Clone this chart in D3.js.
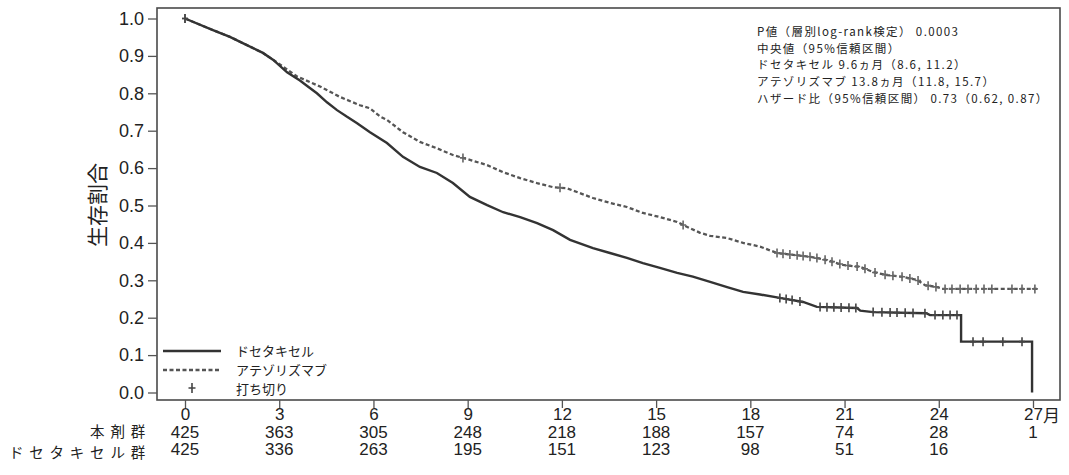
<!DOCTYPE html>
<html>
<head>
<meta charset="utf-8">
<script src="https://cdn.jsdelivr.net/npm/d3@7"></script>
<style>
  html, body { margin: 0; padding: 0; background: #fff; }
  svg { display: block; }
  text { fill: #222; }
</style>
</head>
<body>
<svg id="chart" width="1069" height="475"></svg>
<script>
// ---------------- data ----------------
const xTicks = [0, 3, 6, 9, 12, 15, 18, 21, 24, 27];
const xTickLabels = ["0", "3", "6", "9", "12", "15", "18", "21", "24", "27"];
const xUnitLabel = "月";
const yTicks = [0.0, 0.1, 0.2, 0.3, 0.4, 0.5, 0.6, 0.7, 0.8, 0.9, 1.0];
const yTickLabels = ["0.0", "0.1", "0.2", "0.3", "0.4", "0.5", "0.6", "0.7", "0.8", "0.9", "1.0"];
const yAxisTitle = "生存割合";

const riskRowLabels = ["本剤群", "ドセタキセル群"];
const atRiskAtezo = [425, 363, 305, 248, 218, 188, 157, 74, 28, 1];
const atRiskDoce = [425, 336, 263, 195, 151, 123, 98, 51, 16, null];

const legendLabels = ["ドセタキセル", "アテゾリズマブ", "打ち切り"];

const annotationLines = [
  "P値（層別log-rank検定） 0.0003",
  "中央値（95%信頼区間）",
  "ドセタキセル 9.6ヵ月（8.6, 11.2）",
  "アテゾリズマブ 13.8ヵ月（11.8, 15.7）",
  "ハザード比（95%信頼区間） 0.73（0.62, 0.87）"
];

// docetaxel (solid)
const doceTime = [0, 0.89, 1.43, 1.97, 2.48, 2.80, 3.25, 3.66, 3.88, 4.20, 4.52, 4.84, 5.16, 5.48, 5.89,
  6.43, 6.94, 7.48, 8.02, 8.53, 9.07, 9.62, 10.13, 10.67, 11.21, 11.72, 12.26, 12.99, 13.53, 14.07,
  14.58, 15.12, 15.67, 16.17, 16.72, 17.26, 17.77, 18.31, 18.94, 19.68, 20.12, 21.40, 21.50, 21.91,
  23.60, 23.72, 24.71, 24.71, 26.97, 26.97];
const doceSurv = [1.0, 0.969, 0.951, 0.929, 0.908, 0.890, 0.856, 0.834, 0.820, 0.800, 0.776, 0.755, 0.737, 0.720, 0.696,
  0.667, 0.630, 0.603, 0.587, 0.560, 0.523, 0.501, 0.482, 0.469, 0.453, 0.434, 0.408, 0.386, 0.373, 0.360,
  0.346, 0.333, 0.320, 0.310, 0.296, 0.282, 0.269, 0.262, 0.253, 0.242, 0.229, 0.226, 0.219, 0.215,
  0.212, 0.207, 0.207, 0.136, 0.136, 0.0];
const doceCensor = [0, 18.94, 19.14, 19.33, 19.58, 20.22, 20.44, 20.66, 20.89, 21.14, 21.36, 21.91, 22.19,
  22.45, 22.67, 22.93, 23.18, 23.56, 23.88, 24.13, 24.36, 24.58, 25.09, 25.41, 26.04, 26.65];

// atezolizumab (dotted)
const atezoTime = [0, 0.89, 1.43, 1.97, 2.48, 2.80, 3.57, 4.30, 4.94, 5.57, 5.89, 6.21, 6.43, 6.94, 7.48,
  8.02, 8.53, 9.07, 9.62, 10.13, 10.67, 11.21, 11.72, 12.16, 12.48, 12.99, 13.53, 14.07, 14.58, 15.12,
  15.67, 15.98, 16.40, 16.72, 17.26, 17.77, 18.31, 18.85, 19.90, 20.44, 20.95, 21.49, 21.91, 22.35,
  22.86, 23.31, 23.56, 23.94, 24.13, 27.13];
const atezoSurv = [1.0, 0.969, 0.951, 0.929, 0.908, 0.890, 0.845, 0.818, 0.790, 0.768, 0.760, 0.738, 0.729, 0.696, 0.670,
  0.653, 0.635, 0.622, 0.608, 0.589, 0.573, 0.560, 0.549, 0.546, 0.536, 0.520, 0.507, 0.496, 0.480, 0.469,
  0.456, 0.443, 0.427, 0.419, 0.413, 0.400, 0.390, 0.373, 0.363, 0.354, 0.341, 0.336, 0.322, 0.314,
  0.309, 0.301, 0.287, 0.282, 0.277, 0.277];
const atezoCensor = [0, 8.85, 11.94, 15.86, 18.85, 19.04, 19.26, 19.49, 19.68, 19.90, 20.12, 20.38, 20.60,
  20.85, 21.11, 21.40, 21.65, 21.97, 22.29, 22.54, 22.83, 23.08, 23.34, 23.66, 23.91, 24.20, 24.42,
  24.68, 24.93, 25.19, 25.44, 25.69, 26.33, 26.65, 27.06];

// ---------------- layout ----------------
const svg = d3.select("#chart");
const frame = { left: 157, right: 1060, top: 8, bottom: 400 };
const x = d3.scaleLinear().domain([0, 27]).range([185, 1033]);
const y = d3.scaleLinear().domain([0, 1]).range([392.5, 18.5]);

const latin = "'Liberation Sans', Arial, sans-serif";
const cjk = "'Noto Sans CJK JP', 'Noto Sans', sans-serif";

// frame
svg.append("rect")
  .attr("x", frame.left).attr("y", frame.top)
  .attr("width", frame.right - frame.left).attr("height", frame.bottom - frame.top)
  .attr("fill", "none").attr("stroke", "#4a4a4a").attr("stroke-width", 1.6);

// y axis
const yAxis = d3.axisLeft(y).tickValues(yTicks).tickSize(9).tickPadding(4)
  .tickFormat((d, i) => yTickLabels[i]);
const gy = svg.append("g").attr("transform", `translate(${frame.left},0)`).call(yAxis);
gy.select(".domain").remove();
gy.selectAll(".tick line").attr("stroke", "#555").attr("stroke-width", 1.3);
gy.selectAll(".tick text").attr("font-family", latin).attr("font-size", 18).attr("fill", "#333");

// x axis
const xAxis = d3.axisBottom(x).tickValues(xTicks).tickSize(8).tickPadding(0)
  .tickFormat((d, i) => xTickLabels[i]);
const gx = svg.append("g").attr("transform", `translate(0,${frame.bottom})`).call(xAxis);
gx.select(".domain").remove();
gx.selectAll(".tick line").attr("stroke", "#555").attr("stroke-width", 1.3);
gx.selectAll(".tick text").attr("font-family", latin).attr("font-size", 17).attr("fill", "#333")
  .attr("y", 14).attr("dy", null).attr("dominant-baseline", "central");
gx.selectAll(".tick").filter((d, i) => i === xTicks.length - 1).select("text")
  .attr("text-anchor", "start").attr("dx", -9.5)
  .append("tspan").attr("font-family", cjk).attr("font-size", 17).text(xUnitLabel);

// y axis title
svg.append("text")
  .attr("transform", "translate(96,205) rotate(-90)")
  .attr("text-anchor", "middle").attr("dominant-baseline", "central")
  .attr("font-family", cjk).attr("font-size", 21).attr("fill", "#333")
  .text(yAxisTitle);

// at-risk table
const riskY = [432, 449];
const riskLabelY = [430.5, 451.5];
[atRiskAtezo, atRiskDoce].forEach((row, r) => {
  svg.append("text")
    .attr("x", 151).attr("y", riskLabelY[r])
    .attr("text-anchor", "end").attr("dominant-baseline", "central")
    .attr("font-family", cjk).attr("font-size", 14.5).attr("letter-spacing", 5.8)
    .attr("fill", "#333")
    .text(riskRowLabels[r]);
  svg.append("g").selectAll("text").data(row.map((v, i) => ({ v, t: xTicks[i] })).filter(d => d.v !== null))
    .join("text")
    .attr("x", d => x(d.t)).attr("y", riskY[r])
    .attr("text-anchor", "middle").attr("dominant-baseline", "central")
    .attr("font-family", latin).attr("font-size", 17).attr("fill", "#333")
    .text(d => d.v);
});

// curves
const line = d3.line().x(d => x(d[0])).y(d => y(d[1])).curve(d3.curveLinear);
const doceData = doceTime.map((t, i) => [t, doceSurv[i]]);
const atezoData = atezoTime.map((t, i) => [t, atezoSurv[i]]);

const plot = svg.append("g");
plot.append("path").datum(atezoData).attr("d", line)
  .attr("fill", "none").attr("stroke", "#555").attr("stroke-width", 2.3)
  .attr("stroke-dasharray", "4,2.5");
plot.append("path").datum(doceData).attr("d", line)
  .attr("fill", "none").attr("stroke", "#333").attr("stroke-width", 2.4);

function valueAt(times, surv, t) {
  for (let i = times.length - 1; i >= 0; i--) {
    if (times[i] <= t) {
      if (i === times.length - 1) return surv[i];
      const t0 = times[i], t1 = times[i + 1];
      if (t1 === t0) return surv[i + 1];
      return surv[i] + (surv[i + 1] - surv[i]) * (t - t0) / (t1 - t0);
    }
  }
  return surv[0];
}
function plusPath(cx, cy, h, w) {
  return `M${cx - w},${cy}H${cx + w}M${cx},${cy - h}V${cy + h}`;
}
plot.append("g").selectAll("path").data(atezoCensor).join("path")
  .attr("d", t => plusPath(x(t), y(valueAt(atezoTime, atezoSurv, t)), 4.5, 3))
  .attr("fill", "none").attr("stroke", "#666").attr("stroke-width", 1.6);
plot.append("g").selectAll("path").data(doceCensor).join("path")
  .attr("d", t => plusPath(x(t), y(valueAt(doceTime, doceSurv, t)), 4.5, 3))
  .attr("fill", "none").attr("stroke", "#444").attr("stroke-width", 1.6);

// legend
const lg = svg.append("g");
lg.append("line").attr("x1", 163).attr("x2", 221).attr("y1", 351).attr("y2", 351)
  .attr("stroke", "#333").attr("stroke-width", 2.4);
lg.append("line").attr("x1", 163).attr("x2", 221).attr("y1", 370).attr("y2", 370)
  .attr("stroke", "#555").attr("stroke-width", 2.3).attr("stroke-dasharray", "4,2.5");
lg.append("path").attr("d", plusPath(192, 388, 5, 3.5))
  .attr("fill", "none").attr("stroke", "#444").attr("stroke-width", 1.6);
[350, 369, 388].forEach((yy, i) => {
  lg.append("text").attr("x", 236).attr("y", yy)
    .attr("dominant-baseline", "central")
    .attr("font-family", cjk).attr("font-size", 13).attr("fill", "#222")
    .text(legendLabels[i]);
});

// annotation
svg.append("g").selectAll("text").data(annotationLines).join("text")
  .attr("x", 757).attr("y", (d, i) => 31 + i * 16.7)
  .attr("dominant-baseline", "central")
  .attr("font-family", cjk).attr("font-size", 11.5).attr("fill", "#111")
  .attr("letter-spacing", 1.4)
  .text(d => d);
</script>
</body>
</html>
